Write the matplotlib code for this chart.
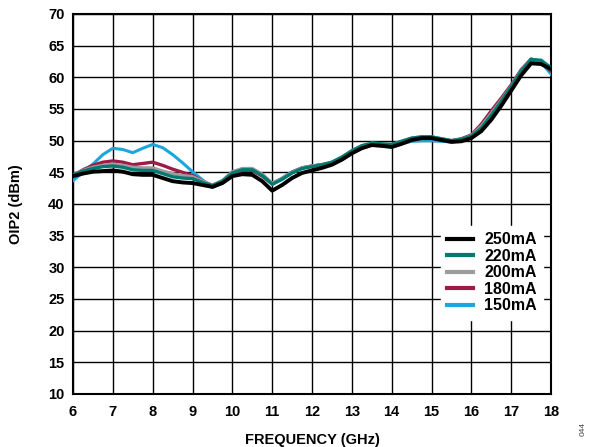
import matplotlib
matplotlib.use("Agg")
import matplotlib.pyplot as plt

plt.rcParams['font.family'] = ['Liberation Sans', 'DejaVu Sans']

# frequency points (GHz)
freq = [6 + 0.25 * i for i in range(49)]

oip2_250 = [44.4, 44.8, 45.1, 45.2, 45.3, 45.1, 44.7, 44.6, 44.6, 44.1, 43.6, 43.4, 43.3,
            43.0, 42.7, 43.3, 44.4, 44.7, 44.6, 43.6, 42.1, 43.0, 44.1, 44.9, 45.3, 45.7,
            46.2, 47.0, 48.0, 48.8, 49.3, 49.2, 49.0, 49.5, 50.1, 50.4, 50.4, 50.1, 49.8,
            49.9, 50.4, 51.5, 53.3, 55.5, 57.9, 60.3, 62.2, 62.1, 61.3]
oip2_220 = [44.6, 45.2, 45.6, 45.9, 46.0, 45.8, 45.4, 45.3, 45.3, 44.8, 44.3, 44.1, 44.0,
            43.4, 42.9, 43.6, 44.9, 45.4, 45.4, 44.5, 43.1, 43.9, 44.9, 45.6, 45.9, 46.2,
            46.6, 47.4, 48.4, 49.2, 49.6, 49.5, 49.4, 49.9, 50.4, 50.6, 50.6, 50.3, 50.0,
            50.2, 50.7, 52.0, 54.0, 56.2, 58.5, 61.0, 62.8, 62.7, 61.5]
oip2_200 = [44.6, 45.3, 45.8, 46.1, 46.3, 46.1, 45.8, 45.7, 45.7, 45.2, 44.8, 44.5, 44.3,
            43.6, 43.0, 43.7, 45.1, 45.6, 45.6, 44.7, 43.3, 44.0, 45.0, 45.7, 46.0, 46.2,
            46.6, 47.4, 48.4, 49.2, 49.6, 49.5, 49.4, 49.9, 50.4, 50.6, 50.6, 50.3, 50.0,
            50.2, 50.8, 52.3, 54.3, 56.4, 58.6, 61.1, 62.8, 62.6, 61.3]
oip2_180 = [44.5, 45.4, 46.1, 46.6, 46.8, 46.6, 46.2, 46.4, 46.6, 46.1, 45.5, 45.0, 44.5,
            43.6, 42.9, 43.6, 44.8, 45.3, 45.3, 44.4, 43.2, 44.0, 45.0, 45.7, 46.0, 46.2,
            46.5, 47.3, 48.3, 49.1, 49.5, 49.4, 49.3, 49.8, 50.3, 50.5, 50.5, 50.2, 50.0,
            50.3, 50.9, 52.6, 54.7, 56.7, 58.8, 61.2, 62.9, 62.4, 61.0]
oip2_150 = [43.7, 45.0, 46.3, 47.8, 48.8, 48.6, 48.1, 48.8, 49.4, 48.9, 47.8, 46.5, 45.1,
            43.8, 42.6, 43.4, 44.8, 45.3, 45.3, 44.5, 43.2, 44.1, 45.1, 45.7, 46.0, 46.2,
            46.5, 47.3, 48.2, 48.9, 49.3, 49.1, 49.0, 49.5, 49.9, 50.0, 50.0, 49.9, 49.8,
            50.0, 50.6, 52.0, 54.0, 56.2, 58.5, 61.0, 62.7, 62.4, 60.5]

x_ticks = list(range(6, 19))
y_ticks = list(range(10, 71, 5))

fig = plt.figure(figsize=(5.89, 4.47), dpi=100)
ax = fig.add_axes([0.124, 0.1186, 0.8115, 0.8501])

# drawn back to front so 250mA ends on top
ax.plot(freq, oip2_150, color='#1ba6dc', lw=2.2, label='150mA', zorder=3)
ax.plot(freq, oip2_180, color='#9c1c47', lw=2.4, label='180mA', zorder=4)
ax.plot(freq, oip2_200, color='#9c9c9c', lw=2.4, label='200mA', zorder=5)
ax.plot(freq, oip2_220, color='#007a70', lw=2.4, label='220mA', zorder=6)
ax.plot(freq, oip2_250, color='black', lw=2.8, label='250mA', zorder=7)

ax.set_xlim(6, 18)
ax.set_ylim(10, 70)
ax.set_xticks(x_ticks)
ax.set_yticks(y_ticks)
ax.grid(True, color='black', lw=1.0)
ax.tick_params(axis='x', length=0, pad=8, labelsize=10.5)
ax.tick_params(axis='y', length=0, pad=6, labelsize=10.5)
for lbl in ax.get_xticklabels() + ax.get_yticklabels():
    lbl.set_fontweight('bold')
for s in ax.spines.values():
    s.set_linewidth(1.5)

ax.set_xlabel('FREQUENCY (GHz)', fontsize=10.5, fontweight='bold', labelpad=10)
ax.set_ylabel('OIP2 (dBm)', fontsize=10.5, fontweight='bold', labelpad=18)

handles, labels = ax.get_legend_handles_labels()
leg = ax.legend(handles[::-1], labels[::-1], loc='lower right',
                bbox_to_anchor=(1.0, 0.174), frameon=True, fancybox=False,
                edgecolor='white', framealpha=1.0, handlelength=1.6,
                labelspacing=0.1, borderpad=0.4, handletextpad=0.7,
                prop={'weight': 'bold', 'size': 11.5})
for line in leg.get_lines():
    line.set_linewidth(3)

fig.text(0.99, 0.04, '044', rotation=90, fontsize=6, color='#444444',
         ha='center', va='center')

fig.savefig('out.png', dpi=100)
